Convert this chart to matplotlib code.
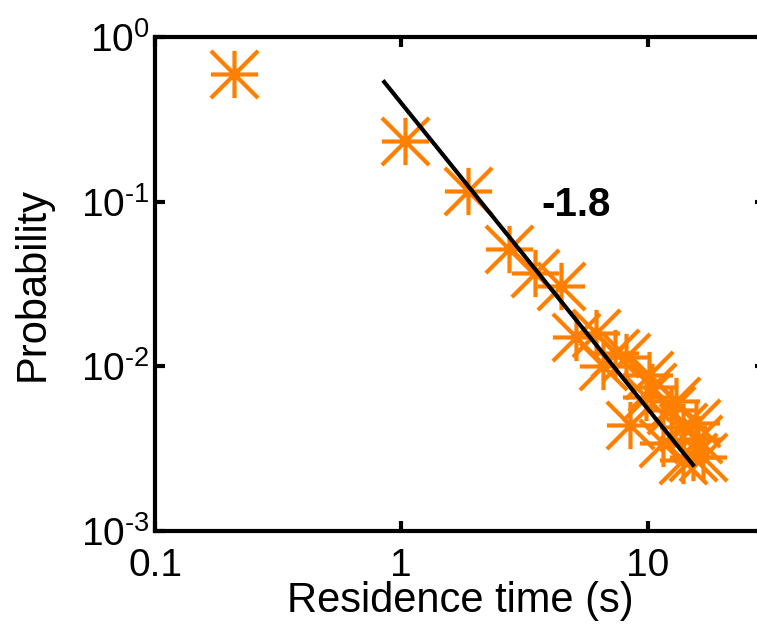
import numpy as np
import matplotlib
matplotlib.use('Agg')
import matplotlib.pyplot as plt
from matplotlib.path import Path
from matplotlib.ticker import FixedLocator, FixedFormatter, NullLocator

plt.rcParams['font.family'] = ['Liberation Sans', 'DejaVu Sans']
plt.rcParams['mathtext.fontset'] = 'custom'
plt.rcParams['mathtext.rm'] = 'Liberation Sans'
plt.rcParams['mathtext.it'] = 'Liberation Sans:italic'
plt.rcParams['mathtext.bf'] = 'Liberation Sans:bold'

# data
res_time = [0.21, 1.04, 1.87, 2.73, 3.48, 4.44, 5.11, 6.17, 6.6, 7.4, 8.2,
            10.1, 8.5, 9.86, 10.4, 11.6, 12.4, 13.1, 13.9, 13.9, 15.3,
            15.8, 16.1, 16.8]
prob = [0.60, 0.234, 0.116, 0.0516, 0.0369, 0.0308, 0.0151, 0.0160, 0.0100,
        0.0121, 0.0114, 0.0089, 0.0044, 0.0065, 0.0075, 0.0034, 0.0054,
        0.0062, 0.0043, 0.0027, 0.0028, 0.0045, 0.0036, 0.0028]

# power-law fit line end points
fit_x = [0.853, 15.3]
fit_y = [0.533, 0.00252]
slope_label = '-1.8'

xticks = [0.1, 1, 10]
xticklabels = ['0.1', '1', '10']
yticks = [1e-3, 1e-2, 1e-1, 1]
yticklabels = [r'$10^{\text{-}3}$', r'$10^{\text{-}2}$', r'$10^{\text{-}1}$', r'$10^{0}$']

# matlab style asterisk (plus + cross)
verts = [(-1, 0), (1, 0), (0, -1), (0, 1), (-1, -1), (1, 1), (-1, 1), (1, -1)]
codes = [Path.MOVETO, Path.LINETO] * 4
star = Path(verts, codes)

fig = plt.figure(figsize=(7.57, 6.31), dpi=100)
ax = fig.add_axes([155 / 757, 100 / 631, (765 - 155) / 757, (531 - 37) / 631])

ax.plot(res_time, prob, linestyle='none', marker=star, markersize=34,
        markeredgewidth=3, markerfacecolor='none', color='#FF8000')
ax.plot(fit_x, fit_y, color='black', linewidth=3)
ax.text(3.7, 0.095, slope_label, fontsize=29, fontweight='bold', va='center')

ax.set_xscale('log')
ax.set_yscale('log')
ax.set_xlim(0.1, 30)
ax.set_ylim(1e-3, 1)
ax.xaxis.set_major_locator(FixedLocator(xticks))
ax.xaxis.set_major_formatter(FixedFormatter(xticklabels))
ax.yaxis.set_major_locator(FixedLocator(yticks))
ax.yaxis.set_major_formatter(FixedFormatter(yticklabels))
ax.xaxis.set_minor_locator(NullLocator())
ax.yaxis.set_minor_locator(NullLocator())

for s in ax.spines.values():
    s.set_linewidth(3)
ax.tick_params(which='major', direction='in', length=7, width=3,
               top=True, right=True, labelsize=28, pad=4)
ax.tick_params(axis='x', pad=12)

ax.set_xlabel('Residence time (s)', fontsize=30, labelpad=-2)
ax.set_ylabel('Probability', fontsize=30, labelpad=20)

fig.savefig('out.png', dpi=100)
